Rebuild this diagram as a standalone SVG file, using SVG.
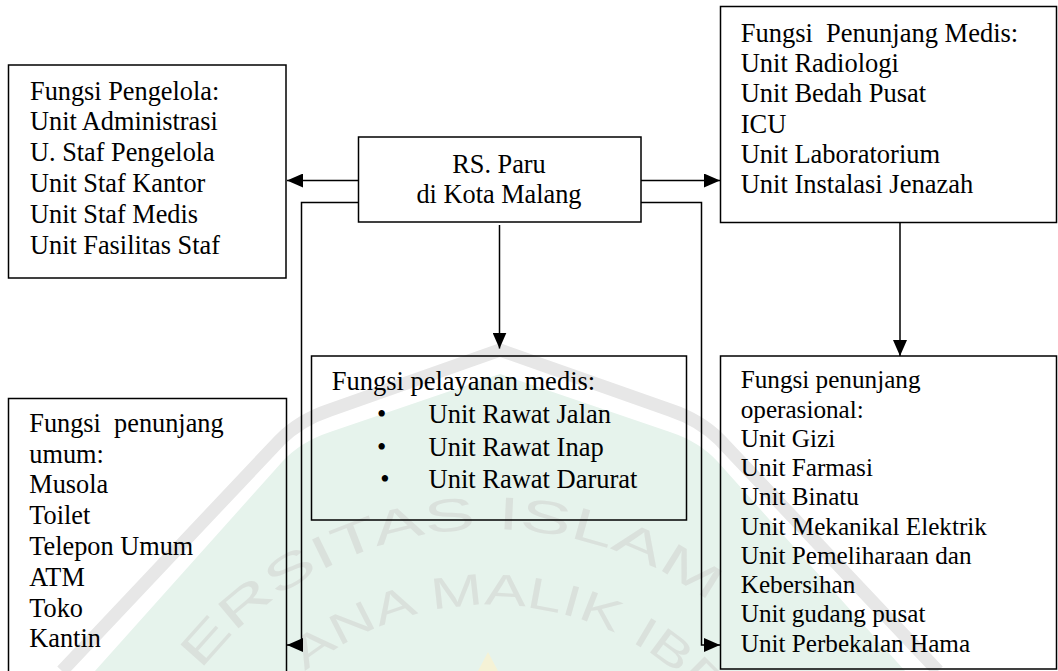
<svg xmlns="http://www.w3.org/2000/svg" width="1058" height="671" viewBox="0 0 1058 671">
  <style>
    .box { fill: none; stroke: #000; stroke-width: 1.5; }
    .wire { fill: none; stroke: #000; stroke-width: 1.5; }
    .t { font-family: "Liberation Serif", "Times New Roman", serif; font-size: 26.3px; fill: #000; }
    .t265 { font-size: 26.5px; }
    .t25 { font-size: 25.2px; }
    .wm { font-family: "Liberation Sans", Arial, sans-serif; fill: #dae1dc; }
  </style>
  <defs>
    <marker id="arrow" markerUnits="userSpaceOnUse" markerWidth="16" markerHeight="14" refX="16" refY="7" orient="auto">
      <path d="M0,0 L16,7 L0,14 Z" fill="#000"/>
    </marker>
    <!-- baseline arcs for the seal lettering, centre (490,895) -->
    <path id="sealOuter" d="M 200.8 670.8 A 366 366 0 0 1 709.2 601.9"/>
    <path id="sealInner" d="M 305.2 671.5 A 290 290 0 0 1 710.4 706.5"/>
  </defs>

  <!-- faint seal in the background -->
  <g id="seal">
    <path d="M 500 374 L 330 432 Q 300 442 282 462 L 69 700 L 931 700 L 718 462 Q 700 442 670 432 Z" fill="#e6f3ec"/>
    <path d="M 62 671 L 280 440 Q 300 420 330 410 L 500 350 L 670 410 Q 700 420 720 440 L 938 671" fill="none" stroke="#e7e7e7" stroke-width="13"/>
    <text class="wm" font-size="46"><textPath href="#sealOuter" textLength="569" lengthAdjust="spacingAndGlyphs">ERSITAS ISLAM</textPath></text>
    <text class="wm" font-size="44"><textPath href="#sealInner" textLength="451" lengthAdjust="spacingAndGlyphs">ANA MALIK IBR</textPath></text>
    <path d="M 488 652 L 478 671 L 498 671 Z" fill="#f5f2d6"/>
  </g>

  <!-- connectors -->
  <g id="connectors">
    <path class="wire" d="M 358.5 180.5 H 287" marker-end="url(#arrow)"/>
    <path class="wire" d="M 358.5 202.5 H 301.5 V 645 H 287" marker-end="url(#arrow)"/>
    <path class="wire" d="M 641 180.5 H 720" marker-end="url(#arrow)"/>
    <path class="wire" d="M 641 202.5 H 701.5 V 645 H 720" marker-end="url(#arrow)"/>
    <path class="wire" d="M 499.5 225 V 348.5" marker-end="url(#arrow)"/>
    <path class="wire" d="M 900 222.5 V 356" marker-end="url(#arrow)"/>
  </g>

  <g id="rs-paru">
    <rect class="box" x="358.5" y="137" width="282.5" height="85"/>
    <text class="t" x="499" y="172.7" text-anchor="middle">RS. Paru</text>
    <text class="t" x="499" y="202.7" text-anchor="middle">di Kota Malang</text>
  </g>

  <g id="fungsi-pengelola">
    <rect class="box" x="8.5" y="65" width="277.5" height="213"/>
    <text class="t" x="30">
      <tspan x="30" y="99.5">Fungsi Pengelola:</tspan>
      <tspan x="30" y="130.3">Unit Administrasi</tspan>
      <tspan x="30" y="161.1">U. Staf Pengelola</tspan>
      <tspan x="30" y="191.9">Unit Staf Kantor</tspan>
      <tspan x="30" y="222.7">Unit Staf Medis</tspan>
      <tspan x="30" y="253.5">Unit Fasilitas Staf</tspan>
    </text>
  </g>

  <g id="fungsi-penunjang-medis">
    <rect class="box" x="720.5" y="6.5" width="336" height="216"/>
    <text class="t t265" x="740.7" xml:space="preserve"><tspan x="740.7" y="41.7">Fungsi  Penunjang Medis:</tspan></text>
    <text class="t t265">
      <tspan x="740.7" y="72">Unit Radiologi</tspan>
      <tspan x="740.7" y="102.3">Unit Bedah Pusat</tspan>
      <tspan x="740.7" y="132.6">ICU</tspan>
      <tspan x="740.7" y="162.9">Unit Laboratorium</tspan>
      <tspan x="740.7" y="193.2">Unit Instalasi Jenazah</tspan>
    </text>
  </g>

  <g id="fungsi-pelayanan-medis">
    <rect class="box" x="311.5" y="356" width="375" height="164"/>
    <text class="t t265" x="331.7" y="390">Fungsi pelayanan medis:</text>
    <text class="t t265" text-anchor="middle">
      <tspan x="385" y="423">•</tspan>
      <tspan x="385" y="455.5">•</tspan>
      <tspan x="385" y="488">•</tspan>
    </text>
    <text class="t t265">
      <tspan x="428.5" y="423">Unit Rawat Jalan</tspan>
      <tspan x="428.5" y="455.5">Unit Rawat Inap</tspan>
      <tspan x="428.5" y="488">Unit Rawat Darurat</tspan>
    </text>
  </g>

  <g id="fungsi-penunjang-umum">
    <rect class="box" x="8.5" y="398.5" width="278" height="290"/>
    <text class="t" x="29.3" y="431.7" xml:space="preserve">Fungsi  penunjang</text>
    <text class="t">
      <tspan x="29.3" y="462.5">umum:</tspan>
      <tspan x="29.3" y="493.3">Musola</tspan>
      <tspan x="29.3" y="524.1">Toilet</tspan>
      <tspan x="29.3" y="554.9">Telepon Umum</tspan>
      <tspan x="29.3" y="585.7">ATM</tspan>
      <tspan x="29.3" y="616.5">Toko</tspan>
      <tspan x="29.3" y="647.3">Kantin</tspan>
    </text>
  </g>

  <g id="fungsi-penunjang-operasional">
    <rect class="box" x="720.5" y="356" width="336" height="313"/>
    <text class="t t25">
      <tspan x="740.7" y="388.3">Fungsi penunjang</tspan>
      <tspan x="740.7" y="417.6">operasional:</tspan>
      <tspan x="740.7" y="446.8">Unit Gizi</tspan>
      <tspan x="740.7" y="476.1">Unit Farmasi</tspan>
      <tspan x="740.7" y="505.3">Unit Binatu</tspan>
      <tspan x="740.7" y="534.6">Unit Mekanikal Elektrik</tspan>
      <tspan x="740.7" y="563.9">Unit Pemeliharaan dan</tspan>
      <tspan x="740.7" y="593.1">Kebersihan</tspan>
      <tspan x="740.7" y="622.4">Unit gudang pusat</tspan>
      <tspan x="740.7" y="651.6">Unit Perbekalan Hama</tspan>
    </text>
  </g>
</svg>
